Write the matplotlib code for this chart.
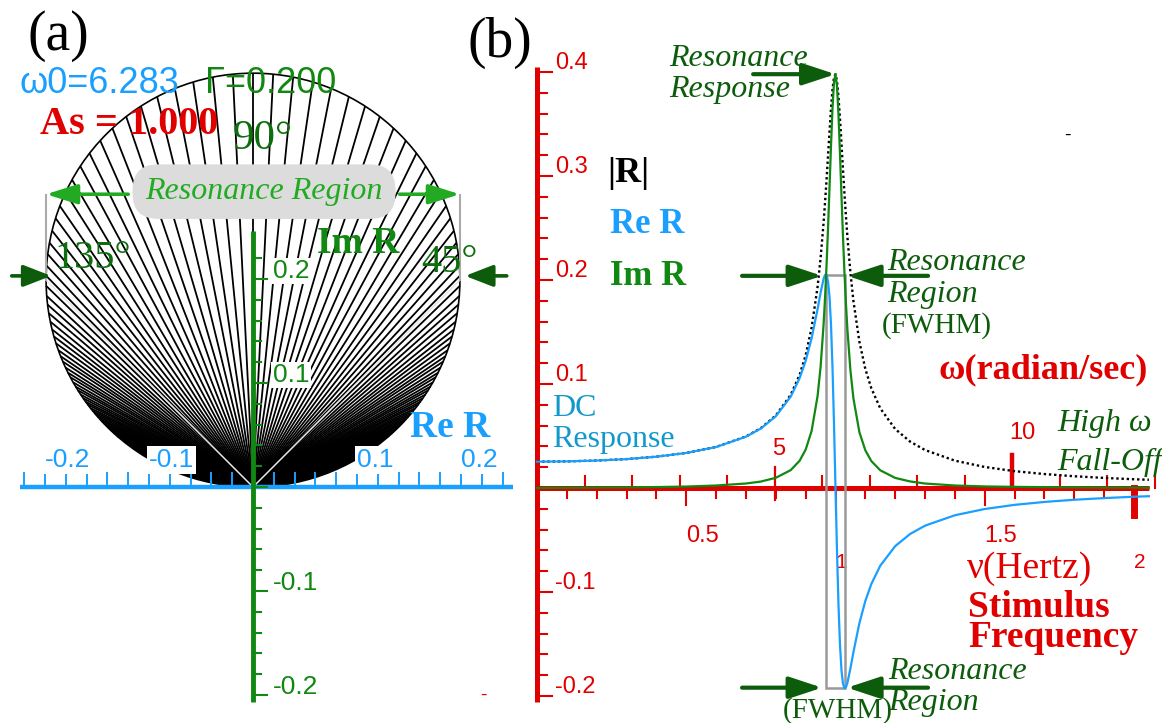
import numpy as np
import matplotlib
matplotlib.use("Agg")
import matplotlib.pyplot as plt
from matplotlib import patches
from matplotlib.collections import LineCollection

W, H = 1162, 723

# ---- values ----
nu_hz = [0, 0.1, 0.2, 0.3, 0.4, 0.5, 0.6, 0.7, 0.75, 0.8, 0.85, 0.88, 0.9,
         0.92, 0.94, 0.95, 0.96, 0.965, 0.97, 0.975, 0.98, 0.985, 0.99,
         0.995, 1.0, 1.005, 1.01, 1.015, 1.02, 1.025, 1.03, 1.035, 1.04,
         1.05, 1.06, 1.08, 1.1, 1.12, 1.15, 1.2, 1.25, 1.3, 1.4, 1.5, 1.6,
         1.7, 1.8, 1.9, 2.0, 2.05]
re_r = [0.0253, 0.0256, 0.0264, 0.0278, 0.0301, 0.0337, 0.0394, 0.0493,
        0.0572, 0.0690, 0.0879, 0.1058, 0.1222, 0.1440, 0.1721, 0.1876,
        0.2010, 0.2049, 0.2049, 0.1988, 0.1837, 0.1565, 0.1154, 0.0614,
        0.0, -0.0605, -0.1122, -0.1504, -0.1750, -0.1880, -0.1926, -0.1916,
        -0.1872, -0.1734, -0.1579, -0.1300, -0.1086, -0.0923, -0.0747,
        -0.0559, -0.0442, -0.0362, -0.0262, -0.0202, -0.0162, -0.0134,
        -0.0113, -0.0097, -0.0084, -0.0079]
im_r = [0.0, 0.0002, 0.0004, 0.0006, 0.0009, 0.0014, 0.0024, 0.0043,
        0.0062, 0.0098, 0.0172, 0.0263, 0.0369, 0.0549, 0.0885, 0.1164,
        0.1567, 0.1830, 0.2141, 0.2499, 0.2894, 0.3296, 0.3655, 0.3902,
        0.3979, 0.3864, 0.3589, 0.3216, 0.2812, 0.2423, 0.2074, 0.1773,
        0.1519, 0.1131, 0.0862, 0.0537, 0.0362, 0.0259, 0.0170, 0.0097,
        0.0063, 0.0043, 0.0024, 0.0015, 0.0011, 0.0008, 0.0006, 0.0004,
        0.0004, 0.0003]
abs_r = [0.0253, 0.0256, 0.0264, 0.0278, 0.0301, 0.0337, 0.0395, 0.0495,
         0.0576, 0.0697, 0.0896, 0.1090, 0.1276, 0.1541, 0.1935, 0.2208,
         0.2548, 0.2747, 0.2963, 0.3194, 0.3428, 0.3649, 0.3833, 0.3950,
         0.3979, 0.3911, 0.3760, 0.3551, 0.3312, 0.3067, 0.2831, 0.2611,
         0.2411, 0.2070, 0.1799, 0.1407, 0.1144, 0.0959, 0.0766, 0.0567,
         0.0446, 0.0365, 0.0263, 0.0202, 0.0162, 0.0134, 0.0113, 0.0097,
         0.0084, 0.0079]
fwhm_hz = [0.968, 1.032]

# spoke directions in (a): degrees away from the 90 deg line, same both sides
spoke_dev = [0.0, 2.8, 5.6, 8.4, 11.1, 13.8, 16.4, 18.9, 21.4, 23.8, 26.1,
             28.3, 30.5, 32.5, 34.5, 36.3, 38.1, 39.8, 41.4, 43.0, 44.4, 45.8,
             47.2, 48.4, 49.6, 50.8, 51.9, 52.9, 53.9, 54.9, 55.8, 56.6, 57.5,
             58.3, 59.0, 59.8, 60.5, 61.1, 61.8, 62.4, 63.0, 63.5, 64.1, 64.6,
             65.1, 65.6, 66.1, 66.5, 67.0, 67.4, 67.8, 68.2, 68.6, 68.9, 69.3,
             69.6]
# where the spokes crowd into solid black: (from deg, to deg, reach)
black_bands = [(0, 21, 0.5), (21, 25, 0.125), (25, 30, 0.09), (30, 36, 0.062),
               (36, 45, 0.045), (45, 60, 0.03), (60, 90, 0.022)]

re_ticks_a = [-0.2, -0.1, 0.1, 0.2]
re_labels_a = ['-0.2', '-0.1', '0.1', '0.2']
im_ticks_a = [0.2, 0.1, -0.1, -0.2]
im_labels_a = ['0.2', '0.1', '-0.1', '-0.2']
y_ticks_b = [0.4, 0.3, 0.2, 0.1, -0.1, -0.2]
y_labels_b = ['0.4', '0.3', '0.2', '0.1', '-0.1', '-0.2']
hz_ticks = [0.5, 1, 1.5, 2]
hz_labels = ['0.5', '1', '1.5', '2']
rad_ticks = [5, 10]
rad_labels = ['5', '10']

SERIF = ['Liberation Serif', 'DejaVu Serif']
SANS = ['Liberation Sans', 'DejaVu Sans']
RED = '#e00000'
BLUE = '#1a9fff'
GREEN = '#118811'
DKGREEN = '#0c5c0c'
LTGREEN = '#22aa22'

fig = plt.figure(figsize=(W / 100, H / 100), dpi=100)


def T(x, y, s, **kw):
    # place text by pixel position in the figure (y = baseline of last line)
    kw.setdefault('ha', 'left')
    kw.setdefault('va', 'baseline')
    fig.text(x / W, 1 - y / H, s, **kw)


def arrow(ax, tail, head, color, lw=3, hl=1.0, hw=0.33):
    ax.annotate('', xy=head, xytext=tail, annotation_clip=False,
                arrowprops=dict(arrowstyle='-|>,head_length=%g,head_width=%g' % (hl, hw),
                                color=color, lw=lw, shrinkA=0, shrinkB=0,
                                mutation_scale=20))


# ================= panel (a) =================
sa = 1040.0
ax_a = fig.add_axes([0, 0, 530 / W, 1])
ax_a.set_xlim(-253 / sa, (530 - 253) / sa)
ax_a.set_ylim(-(H - 487) / sa, 487 / sa)
ax_a.axis('off')

peak = max(abs_r)
rad = peak / 2
phi = np.radians([90 - d for d in spoke_dev] + [90 + d for d in spoke_dev[1:]])
segs = [[(0, 0), (peak * np.sin(p) * np.cos(p), peak * np.sin(p) ** 2)] for p in phi]
ax_a.add_collection(LineCollection(segs, colors='black', linewidths=1.3, zorder=2))

for t1, t2, reach in black_bands:
    for a1, a2 in [(t1, t2), (180 - t2, 180 - t1)]:
        blob = patches.Circle((0, rad), rad, fc='black', ec='none', zorder=2)
        ax_a.add_patch(blob)
        blob.set_clip_path(patches.Wedge((0, 0), reach, a1, a2, transform=ax_a.transData))

ax_a.add_patch(patches.Circle((0, rad), rad, fill=False, ec='black', lw=1.2, zorder=3))
for sx in (-1, 1):
    ax_a.plot([0, sx * rad], [0, rad], color='#e6e6e6', lw=1.1, zorder=3)
    ax_a.plot([sx * rad, sx * rad], [rad, 0.281], color='#aaaaaa', lw=1.5, zorder=3)

# Re axis (blue)
ax_a.plot([-0.224, 0.25], [0, 0], color=BLUE, lw=3.2, solid_capstyle='butt', zorder=6)
for v in np.arange(-0.22, 0.241, 0.02):
    ax_a.plot([v, v], [0, 0.013], color=BLUE, lw=1.4, zorder=6)
for v, s in zip(re_ticks_a, re_labels_a):
    ax_a.text(v, 0.0195, s, color=BLUE, family=SANS, fontsize=19, ha='left',
              va='baseline', zorder=7,
              bbox=dict(fc='white', ec='none', pad=1.5))

# Im axis (green)
ax_a.plot([0, 0], [-0.207, 0.246], color=GREEN, lw=3.5, solid_capstyle='butt', zorder=6)
for v in np.arange(-0.2, 0.221, 0.02):
    ln = 0.013 if abs(round(v * 10) - v * 10) < 1e-6 else 0.008
    ax_a.plot([0, ln], [v, v], color=GREEN, lw=1.5, zorder=6)
for v, s in zip(im_ticks_a, im_labels_a):
    ax_a.text(0.019, v + 0.001, s, color=GREEN, family=SANS, fontsize=19,
              ha='left', va='baseline', zorder=7,
              bbox=dict(fc='white', ec='none', pad=1.0))

# resonance region markers
ax_a.text(0.0106, 0.284, 'Resonance Region', color=LTGREEN, family=SERIF,
          style='italic', fontsize=23, ha='center', va='center', zorder=8,
          bbox=dict(boxstyle='round,pad=0.4,rounding_size=0.8', fc='#dcdcdc', ec='none'))
arrow(ax_a, (-0.12, 0.2815), (-rad, 0.2815), LTGREEN, lw=2.6, hl=0.95, hw=0.3)
arrow(ax_a, (0.141, 0.2815), (rad, 0.2815), LTGREEN, lw=2.6, hl=0.95, hw=0.3)
arrow(ax_a, (-0.232, 0.203), (-0.194, 0.203), DKGREEN, lw=2.6, hl=0.85, hw=0.33)
arrow(ax_a, (0.244, 0.203), (0.204, 0.203), DKGREEN, lw=2.6, hl=0.85, hw=0.33)

T(28, 50, '(a)', family=SERIF, fontsize=40, color='black')
T(20, 93, 'ω0=6.283', family=SANS, fontsize=26, color=BLUE)
T(205, 93, 'Γ=0.200', family=SANS, fontsize=26, color=GREEN)
T(40, 134, 'As = 1.000', family=SERIF, fontsize=29, color=RED, weight='bold')
T(233, 149, '90°', family=SERIF, fontsize=31, color='#0e6e0e')
T(55, 268, '135°', family=SERIF, fontsize=29, color='#0e6e0e')
T(421, 272, '45°', family=SERIF, fontsize=29, color='#0e6e0e')
T(317, 253, 'Im R', family=SERIF, fontsize=27, color=GREEN, weight='bold')
T(410, 437, 'Re R', family=SERIF, fontsize=27, color=BLUE, weight='bold')
T(480, 700, '-', family=SANS, fontsize=14, color=RED)

# ================= panel (b) =================
sxb, syb = 298.5, 1040.0
ax_b = fig.add_axes([530 / W, 0, (W - 530) / W, 1])
ax_b.set_xlim((530 - 537) / sxb, (W - 537) / sxb)
ax_b.set_ylim(-(H - 488) / syb, 488 / syb)
ax_b.axis('off')

# axes (red)
ax_b.plot([0, 0], [-0.206, 0.405], color=RED, lw=3.6, solid_capstyle='butt', zorder=2)
ax_b.plot([0, 2.05], [0, 0], color=RED, lw=3.6, solid_capstyle='butt', zorder=2)
for v in np.arange(-0.2, 0.401, 0.02):
    major = abs(round(v * 10) - v * 10) < 1e-6
    ax_b.plot([0, (15 if major else 10) / sxb], [v, v], color=RED, lw=1.5, zorder=2)
for v, s in zip(y_ticks_b, y_labels_b):
    ax_b.text(18 / sxb, v + 0.003, s, color=RED, family=SANS, fontsize=17,
              ha='left', va='baseline')

for v in np.arange(0.1, 2.01, 0.1):
    ln, lw = 10, 1.5
    if abs(v - 0.5) < 1e-6 or abs(v - 1.5) < 1e-6:
        ln = 17
    if abs(v - 1.0) < 1e-6:
        ln = 27
    if abs(v - 2.0) < 1e-6:
        ln, lw = 27, 5
    ax_b.plot([v, v], [0, -ln / syb], color=RED, lw=lw, zorder=2)
for k in range(1, 14):
    nu = k / (2 * np.pi)
    if k == 5:
        ax_b.plot([nu, nu], [-12 / syb, 21 / syb], color=RED, lw=1.6, zorder=2)
    elif k == 10:
        ax_b.plot([nu, nu], [0, 33 / syb], color=RED, lw=3.2, zorder=2)
    else:
        ax_b.plot([nu, nu], [0, 12 / syb], color=RED, lw=1.5, zorder=2)

for v, s in zip(hz_ticks, hz_labels):
    y = -0.052 if s in ('0.5', '1.5') else -0.077
    fs = 17 if s in ('0.5', '1.5') else 15
    ax_b.text(v, y, s, color=RED, family=SANS, fontsize=fs, ha='left', va='baseline')
for v, s in zip(rad_ticks, rad_labels):
    y = 0.032 if s == '5' else 0.047
    ax_b.text(v / (2 * np.pi) - 0.008, y, s, color=RED, family=SANS, fontsize=17,
              ha='left', va='baseline')

# curves
ax_b.plot(nu_hz, abs_r, color='black', lw=1.7, ls=(0, (1, 1.2)), zorder=4)
ax_b.plot(nu_hz, re_r, color=BLUE, lw=1.6, zorder=5)
ax_b.plot(nu_hz, im_r, color=GREEN, lw=1.6, zorder=6)

ax_b.add_patch(patches.Rectangle((fwhm_hz[0], min(re_r)), fwhm_hz[1] - fwhm_hz[0],
                                 max(re_r) - min(re_r), fill=False, ec='#999999',
                                 lw=1.8, zorder=3))

arrow(ax_b, (0.724, max(abs_r)), (nu_hz[int(np.argmax(abs_r))], max(abs_r)), DKGREEN)
arrow(ax_b, (0.687, 0.204), (0.955, 0.204), DKGREEN)
arrow(ax_b, (1.31, 0.204), (1.039, 0.204), DKGREEN)
arrow(ax_b, (0.687, -0.192), (0.955, -0.192), DKGREEN)
arrow(ax_b, (1.31, -0.192), (1.039, -0.192), DKGREEN)

T(467, 57, '(b)', family=SERIF, fontsize=40, color='black')
T(669, 97, 'Resonance\nResponse', family=SERIF, style='italic', fontsize=23,
  color=DKGREEN, linespacing=1.07)
T(607, 182, '|R|', family=SERIF, fontsize=26, color='black', weight='bold')
T(610, 233, 'Re R', family=SERIF, fontsize=25, color=BLUE, weight='bold')
T(610, 285, 'Im R', family=SERIF, fontsize=25, color=GREEN, weight='bold')
T(552, 447, 'DC\nResponse', family=SERIF, fontsize=23, color='#1199cc',
  linespacing=1.1)
T(887, 302, 'Resonance\nRegion', family=SERIF, style='italic', fontsize=23,
  color=DKGREEN, linespacing=1.13)
T(882, 333, '(FWHM)', family=SERIF, fontsize=21, color=DKGREEN)
T(939, 378, 'ω(radian/sec)', family=SERIF, fontsize=26, color=RED, weight='bold')
T(1057, 470, 'High ω\nFall-Off', family=SERIF, style='italic', fontsize=23,
  color=DKGREEN, linespacing=1.45)
T(967, 578, 'ν(Hertz)', family=SERIF, fontsize=27, color=RED)
T(968, 647, 'Stimulus\nFrequency', family=SERIF, fontsize=27, color=RED,
  weight='bold', linespacing=0.8)
T(888, 710, 'Resonance\nRegion', family=SERIF, style='italic', fontsize=23,
  color=DKGREEN, linespacing=1.07)
T(783, 718, '(FWHM)', family=SERIF, fontsize=21, color=DKGREEN)
T(1064, 140, '-', family=SANS, fontsize=14, color='black')

fig.savefig('out.png', dpi=100)
